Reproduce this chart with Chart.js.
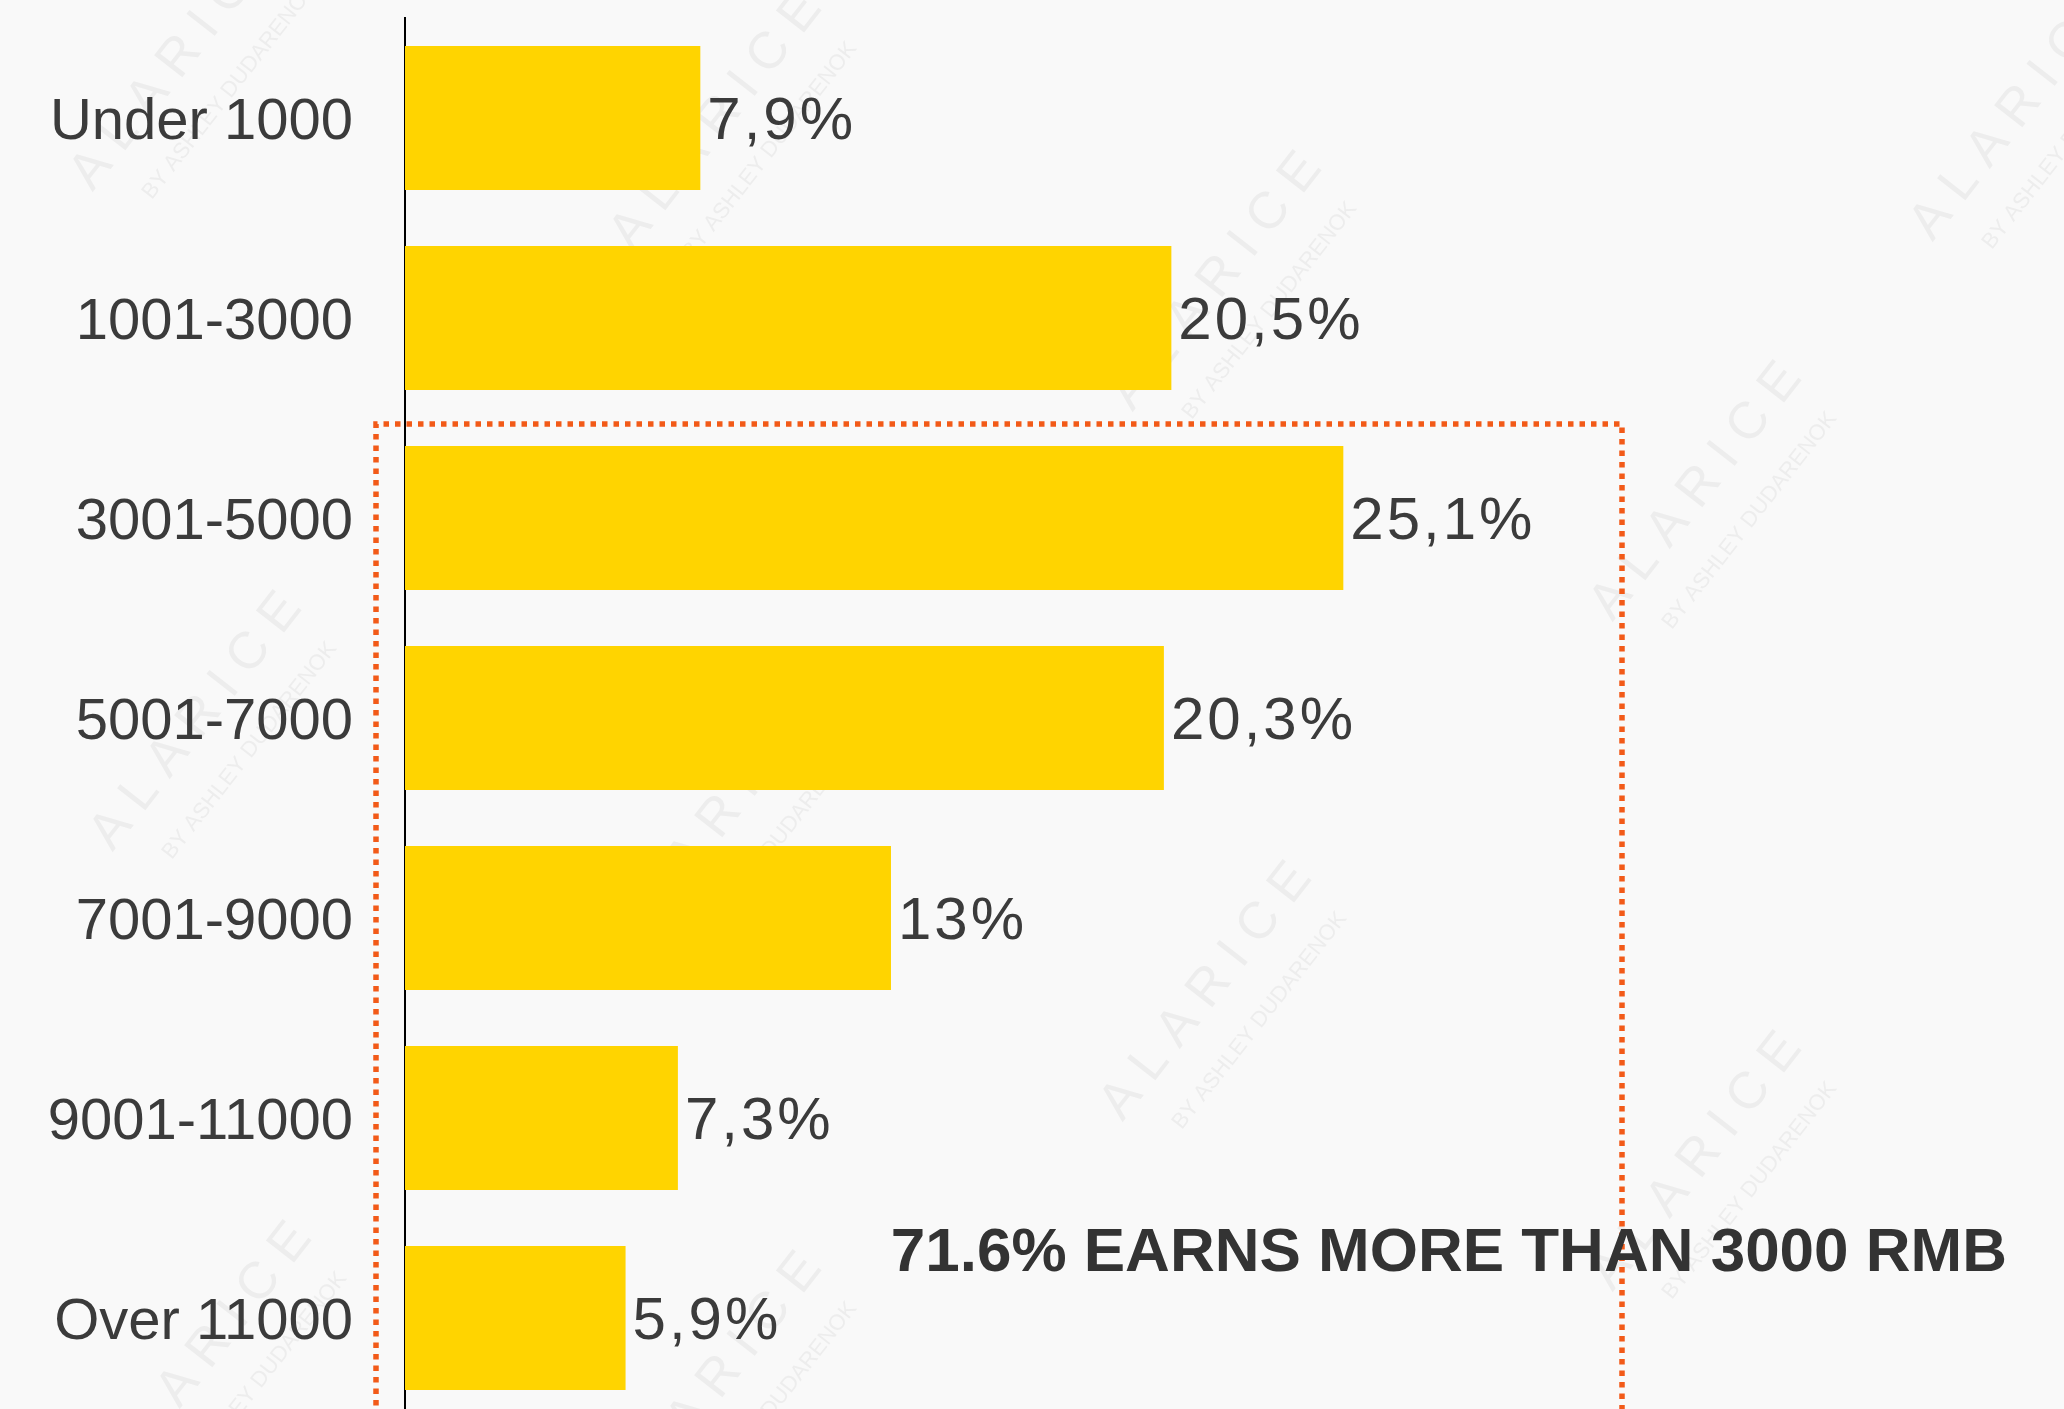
<!DOCTYPE html>
<html>
<head>
<meta charset="utf-8">
<script src="https://cdn.jsdelivr.net/npm/chart.js@4.4.0/dist/chart.umd.min.js"></script>
<style>
  html, body { margin: 0; padding: 0; background: #f9f9f9; }
  #wrap { width: 2064px; height: 1409px; overflow: hidden; position: relative; }
  canvas { display: block; }
</style>
</head>
<body>
<div id="wrap"><canvas id="incomeChart" width="2064" height="1440"></canvas></div>
<script>
// monthly income groups (RMB)
var categories = ["Under 1000", "1001-3000", "3001-5000", "5001-7000", "7001-9000", "9001-11000", "Over 11000"];
var shares = [7.9, 20.5, 25.1, 20.3, 13, 7.3, 5.9];
var shareLabels = ["7,9%", "20,5%", "25,1%", "20,3%", "13%", "7,3%", "5,9%"];
var note = "71.6% EARNS MORE THAN 3000 RMB";

var textColor = '#3b3b3b';
var fontFamily = '"Liberation Sans", Arial, Helvetica, sans-serif';

// faint watermark, drawn behind everything
var watermarks = [
  [200, 80], [740, 140], [1240, 300], [1720, 510], [2040, 130],
  [220, 740], [740, 840], [1230, 1010], [1720, 1180], [230, 1370], [740, 1400]
];
var watermarkPlugin = {
  id: 'watermark',
  beforeDraw: function(chart) {
    var c = chart.ctx;
    c.save();
    c.fillStyle = '#f9f9f9';
    c.fillRect(0, 0, chart.width, chart.height);
    watermarks.forEach(function(p) {
      c.save();
      c.translate(p[0], p[1]);
      c.rotate(-52 * Math.PI / 180);
      c.fillStyle = '#ededed';
      c.font = '52px ' + fontFamily;
      c.textAlign = 'center';
      c.textBaseline = 'middle';
      c.fillText('A L A R I C E', 0, -30);
      c.font = '22px ' + fontFamily;
      c.fillText('BY ASHLEY DUDARENOK', 10, 30);
      c.restore();
    });
    c.restore();
  }
};

var valueLabelPlugin = {
  id: 'valueLabels',
  afterDatasetsDraw: function(chart) {
    var c = chart.ctx;
    var meta = chart.getDatasetMeta(0);
    c.save();
    c.font = '60px ' + fontFamily;
    c.letterSpacing = '3px';
    c.fillStyle = textColor;
    c.textAlign = 'left';
    c.textBaseline = 'middle';
    meta.data.forEach(function(bar, i) {
      c.fillText(shareLabels[i], bar.x + 7, bar.y + 4);
    });
    c.restore();
  }
};

var boxPlugin = {
  id: 'dottedBox',
  afterDraw: function(chart) {
    var c = chart.ctx;
    var y = chart.scales.y;
    var top = y.getPixelForValue(1.5) + 6;
    c.save();
    c.strokeStyle = '#f25a18';
    c.lineWidth = 5.5;
    c.setLineDash([5.5, 6]);
    c.beginPath();
    c.moveTo(376, 1440);
    c.lineTo(376, top);
    c.lineTo(1622, top);
    c.lineTo(1622, 1440);
    c.stroke();
    c.setLineDash([]);
    c.font = 'bold 62px ' + fontFamily;
    c.fillStyle = '#333333';
    c.textAlign = 'right';
    c.textBaseline = 'middle';
    c.fillText(note, 2007, 1254);
    c.restore();
  }
};

var ctx = document.getElementById("incomeChart").getContext('2d');
var incomeChart = new Chart(ctx, {
  type: 'bar',
  data: {
    labels: categories,
    datasets: [{
      data: shares,
      backgroundColor: '#ffd400',
      borderWidth: 0,
      barPercentage: 0.72,
      categoryPercentage: 1
    }]
  },
  options: {
    indexAxis: 'y',
    responsive: false,
    animation: false,
    layout: { padding: { top: 18, bottom: 22, left: 0, right: 373 } },
    plugins: {
      legend: { display: false },
      tooltip: { enabled: false }
    },
    scales: {
      x: { display: false, min: 0, max: 34.4 },
      y: {
        grid: { display: false, drawTicks: false },
        border: { display: true, color: '#000000', width: 2 },
        ticks: { font: { family: fontFamily, size: 58 }, color: textColor, padding: 52, labelOffset: 5 },
        afterFit: function(scale) {
          scale.width = 405;
          scale.paddingTop = 0;
          scale.paddingBottom = 0;
        }
      }
    }
  },
  plugins: [watermarkPlugin, valueLabelPlugin, boxPlugin]
});
</script>
</body>
</html>
